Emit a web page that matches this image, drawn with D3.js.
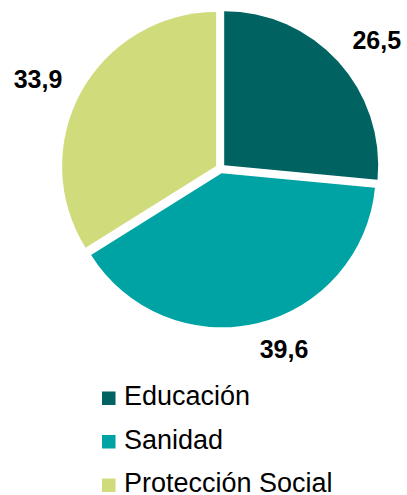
<!DOCTYPE html>
<html>
<head>
<meta charset="utf-8">
<style>
  body { margin: 0; background: #fff; }
  text { font-family: "Liberation Sans", Arial, sans-serif; }
</style>
<title>Gasto por función</title>
</head>
<body>
<script src="https://cdn.jsdelivr.net/npm/d3@7/dist/d3.min.js"></script>
<script>
  // data
  var categories = ["Educación", "Sanidad", "Protección Social"];
  var values = [26.5, 39.6, 33.9];
  var colors = ["#006261", "#00A3A3", "#D0DB7C"];

  var width = 407, height = 495;
  var cx = 220.5, cy = 168.5, radius = 154, explode = 5;

  var svg = d3.select("body").append("svg")
      .attr("width", width)
      .attr("height", height);

  var color = d3.scaleOrdinal().domain(categories).range(colors);

  var pie = d3.pie().sort(null).value(function (d, i) { return values[i]; });
  var arcs = pie(categories);

  var arc = d3.arc().innerRadius(0).outerRadius(radius);

  var g = svg.append("g").attr("transform", "translate(" + cx + "," + cy + ")");

  g.selectAll("path")
    .data(arcs)
    .enter().append("path")
    .attr("d", arc)
    .attr("fill", function (d) { return color(d.data); })
    .attr("transform", function (d) {
      var a = (d.startAngle + d.endAngle) / 2;
      return "translate(" + (explode * Math.sin(a)) + "," + (-explode * Math.cos(a)) + ")";
    });

  // value labels outside the slices
  var labelRadius = [202, 192, 203];
  var labelShift = [3, -6, -3]; // degrees
  var fmt = function (v) { return v.toFixed(1).replace(".", ","); };

  g.selectAll("text.val")
    .data(arcs)
    .enter().append("text")
    .attr("class", "val")
    .attr("x", function (d, i) {
      var a = (d.startAngle + d.endAngle) / 2 + labelShift[i] * Math.PI / 180;
      return labelRadius[i] * Math.sin(a);
    })
    .attr("y", function (d, i) {
      var a = (d.startAngle + d.endAngle) / 2 + labelShift[i] * Math.PI / 180;
      return -labelRadius[i] * Math.cos(a);
    })
    .attr("dy", "0.35em")
    .attr("text-anchor", "middle")
    .attr("font-size", "25px")
    .attr("font-weight", "bold")
    .attr("fill", "#000")
    .text(function (d, i) { return fmt(values[i]); });

  // legend
  var legend = svg.append("g").attr("transform", "translate(102,405)");
  var row = legend.selectAll("g")
    .data(categories)
    .enter().append("g")
    .attr("transform", function (d, i) { return "translate(0," + (i * 43.5) + ")"; });

  row.append("rect")
    .attr("x", 0).attr("y", -13.5)
    .attr("width", 13.5).attr("height", 13.5)
    .attr("fill", function (d) { return color(d); });

  row.append("text")
    .attr("x", 22).attr("y", 0)
    .attr("font-size", "27px")
    .attr("fill", "#000")
    .text(function (d) { return d; });
</script>
</body>
</html>
